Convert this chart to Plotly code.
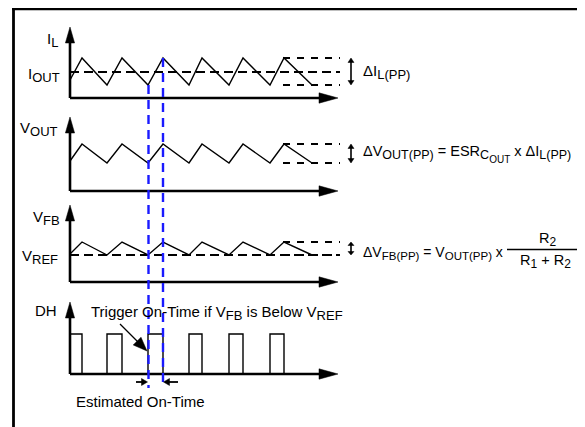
import numpy as np
import plotly.graph_objects as go

# The page body has an 8px margin; the figure is sized and offset to compensate.
OFF = 8
W, H = 585 - OFF, 427 - OFF
X0 = 70                     # reference pixel column of the time origin
BASE = [98, 191, 282, 374]  # reference pixel row of each panel's time axis

# ---------------- data (time units, levels above each panel's axis) ----------------
t_peak = [12, 52, 93, 132, 173, 214]
t_valley = [37, 78, 119, 159, 200]
t_end = 242
t_guide = [213, 270]

il_start, il_peak, il_valley, il_mean = 18, 40, 13, 26
vout_start, vout_peak, vout_valley = 30, 47, 28
vfb_start, vfb_peak, vfb_valley, vref = 28, 40, 27, 27
dh_high = 40
pulse_on = [0] + t_valley
pulse_off = t_peak
ontime_idx = 2  # pulse highlighted with blue markers

FONT = "Liberation Sans, Arial, sans-serif"
FS, SUB = 15, 13


def sawtooth(start, peak, valley):
    t, v = [0], [start]
    for i, tp in enumerate(t_peak):
        t.append(tp); v.append(peak)
        if i < len(t_valley):
            t.append(t_valley[i]); v.append(valley)
    t.append(t_end); v.append(valley)
    return t, v


def pulses():
    t, v = [], []
    for a, b in zip(pulse_on, pulse_off):
        t += [a, a, b, b]
        v += [0, dh_high, dh_high, 0]
    return t, v


fig = go.Figure()
line = dict(color="black", width=1.4)

t, v = sawtooth(il_start, il_peak, il_valley)
fig.add_trace(go.Scatter(x=t, y=v, mode="lines", line=line, yaxis="y"))
t, v = sawtooth(vout_start, vout_peak, vout_valley)
fig.add_trace(go.Scatter(x=t, y=v, mode="lines", line=line, yaxis="y2"))
t, v = sawtooth(vfb_start, vfb_peak, vfb_valley)
fig.add_trace(go.Scatter(x=t, y=v, mode="lines", line=line, yaxis="y3"))
t, v = pulses()
fig.add_trace(go.Scatter(x=t, y=v, mode="lines", line=line, yaxis="y4"))

# dashed reference lines
dash_mean = dict(color="black", width=1.8, dash="9px,5px")
dash_guide = dict(color="black", width=1.8, dash="7px,7px")
fig.add_trace(go.Scatter(x=[0, t_guide[1]], y=[il_mean] * 2, mode="lines", line=dash_mean, yaxis="y"))
fig.add_trace(go.Scatter(x=[0, t_guide[1]], y=[vref] * 2, mode="lines", line=dash_mean, yaxis="y3"))
for lv, ax in [(il_peak, "y"), (il_valley, "y"), (vout_peak, "y2"), (vout_valley, "y2"),
               (vfb_peak, "y3"), (vfb_valley, "y3")]:
    fig.add_trace(go.Scatter(x=t_guide, y=[lv, lv], mode="lines", line=dash_guide, yaxis=ax))

# ---------------- decorations (reference pixel -> paper helpers) ----------------
def px(x):
    return (x - OFF) / W


def py(y):
    return 1 - (y - OFF) / H


shapes = []


def seg(x0, y0, x1, y1, w=2.6, color="black", dash=None):
    d = dict(type="line", xref="paper", yref="paper", x0=px(x0), y0=py(y0), x1=px(x1), y1=py(y1),
             line=dict(color=color, width=w))
    if dash:
        d["line"]["dash"] = dash
    shapes.append(d)


def tri(pts):
    p = "M " + " L ".join(f"{px(a):.5f},{py(b):.5f}" for a, b in pts) + " Z"
    shapes.append(dict(type="path", xref="paper", yref="paper", path=p,
                       fillcolor="black", line=dict(color="black", width=0.5)))


def head(tipx, tipy, fromx, fromy, L, hw):
    d = np.array([tipx - fromx, tipy - fromy], float)
    d /= np.linalg.norm(d)
    n = np.array([-d[1], d[0]])
    b = np.array([tipx, tipy]) - d * L
    tri([(tipx, tipy), tuple(b + n * hw), tuple(b - n * hw)])


# frame
seg(12, 9, 590, 9, w=2.4)
seg(13.5, 8, 13.5, 430, w=2.8)

# axes
tips = [27, 117, 205, 302]
for b, tp in zip(BASE, tips):
    seg(X0, b, X0, tp + 10, w=2.6)
    head(X0, tp, X0, b, 16, 4.6)
    seg(X0, b, 325, b, w=2.6)
    head(338, b, X0, b, 19, 5.2)

# blue on-time markers
tb0 = X0 + pulse_on[ontime_idx]
tb1 = X0 + pulse_off[ontime_idx]
seg(tb0 + 0.5, BASE[0] - il_valley, tb0 + 0.5, 388, w=2.4, color="#1a1aff", dash="9px,6px")
seg(tb1, BASE[0] - il_peak, tb1, 388, w=2.4, color="#1a1aff", dash="9px,6px")

# estimated on-time arrows
ya = 382
seg(136, ya, 143, ya, w=1.8)
head(tb0 - 0.5, ya, 136, ya, 6, 3.5)
seg(178, ya, 169, ya, w=1.8)
head(tb1 + 0.5, ya, 178, ya, 6, 3.5)

# trigger arrow
seg(120, 324, 140, 344, w=1.3)
head(147, 351, 120, 324, 14, 5.5)

# delta double arrows
for a, b in [(58, 85), (144, 163), (242, 255)]:
    L = 4.5 if b - a > 16 else 3.5
    seg(351, a + 3, 351, b - 3, w=1.6)
    head(351, a, 351, b, L, 3)
    head(351, b, 351, a, L, 3)

# fraction bar
seg(507, 249.5, 582, 249.5, w=1.4)

# ---------------- texts ----------------
ann = []


def sub(s, size=SUB):
    return f'<sub><span style="font-size:{size}px">{s}</span></sub>'


def text(s, x, y, xa="left", size=FS):
    ann.append(dict(text=s, x=px(x), y=py(y), xref="paper", yref="paper", xanchor=xa,
                    yanchor="middle", showarrow=False, font=dict(family=FONT, size=size, color="black")))


text("I" + sub("L"), 60, 40, "right")
text("I" + sub("OUT"), 62, 75, "right")
text("V" + sub("OUT"), 60, 129, "right")
text("V" + sub("FB"), 62, 218, "right")
text("V" + sub("REF"), 60, 257, "right")
text("DH", 59, 310, "right")
text("ΔI" + sub("L(PP)"), 361, 72)
text("ΔV" + sub("OUT(PP)", 12.5) + " = ESR"
     + '<sub><span style="font-size:12.5px">C</span>'
     + '<span style="font-size:10px;baseline-shift:-4px">OUT</span></sub>'
     + " x ΔI" + sub("L(PP)", 12.5), 361, 154, size=14.5)
text("ΔV" + sub("FB(PP)", 11.5) + " = V" + sub("OUT(PP)", 11.5) + " x", 361, 253, size=14)
text("R" + sub("2", 12), 547, 240, "center", size=14.5)
text("R" + sub("1", 12) + " + R" + sub("2", 12), 545, 261, "center", size=14.5)
text("Trigger On-Time if V" + sub("FB") + " is Below V" + sub("REF"), 89, 313)
text("Estimated On-Time", 140, 401, "center")

layout = dict(
    width=W, height=H, margin=dict(l=0, r=0, t=0, b=0),
    paper_bgcolor="white", plot_bgcolor="white", showlegend=False,
    xaxis=dict(range=[-(X0 - OFF), W - (X0 - OFF)], visible=False, fixedrange=True),
    shapes=shapes, annotations=ann,
)
for i, b in enumerate(BASE):
    key = "yaxis" if i == 0 else f"yaxis{i+1}"
    d = dict(range=[b - OFF - H, b - OFF], visible=False, domain=[0, 1], fixedrange=True)
    if i > 0:
        d["overlaying"] = "y"
    layout[key] = d
fig.update_layout(**layout)

fig.write_html("out.html")
